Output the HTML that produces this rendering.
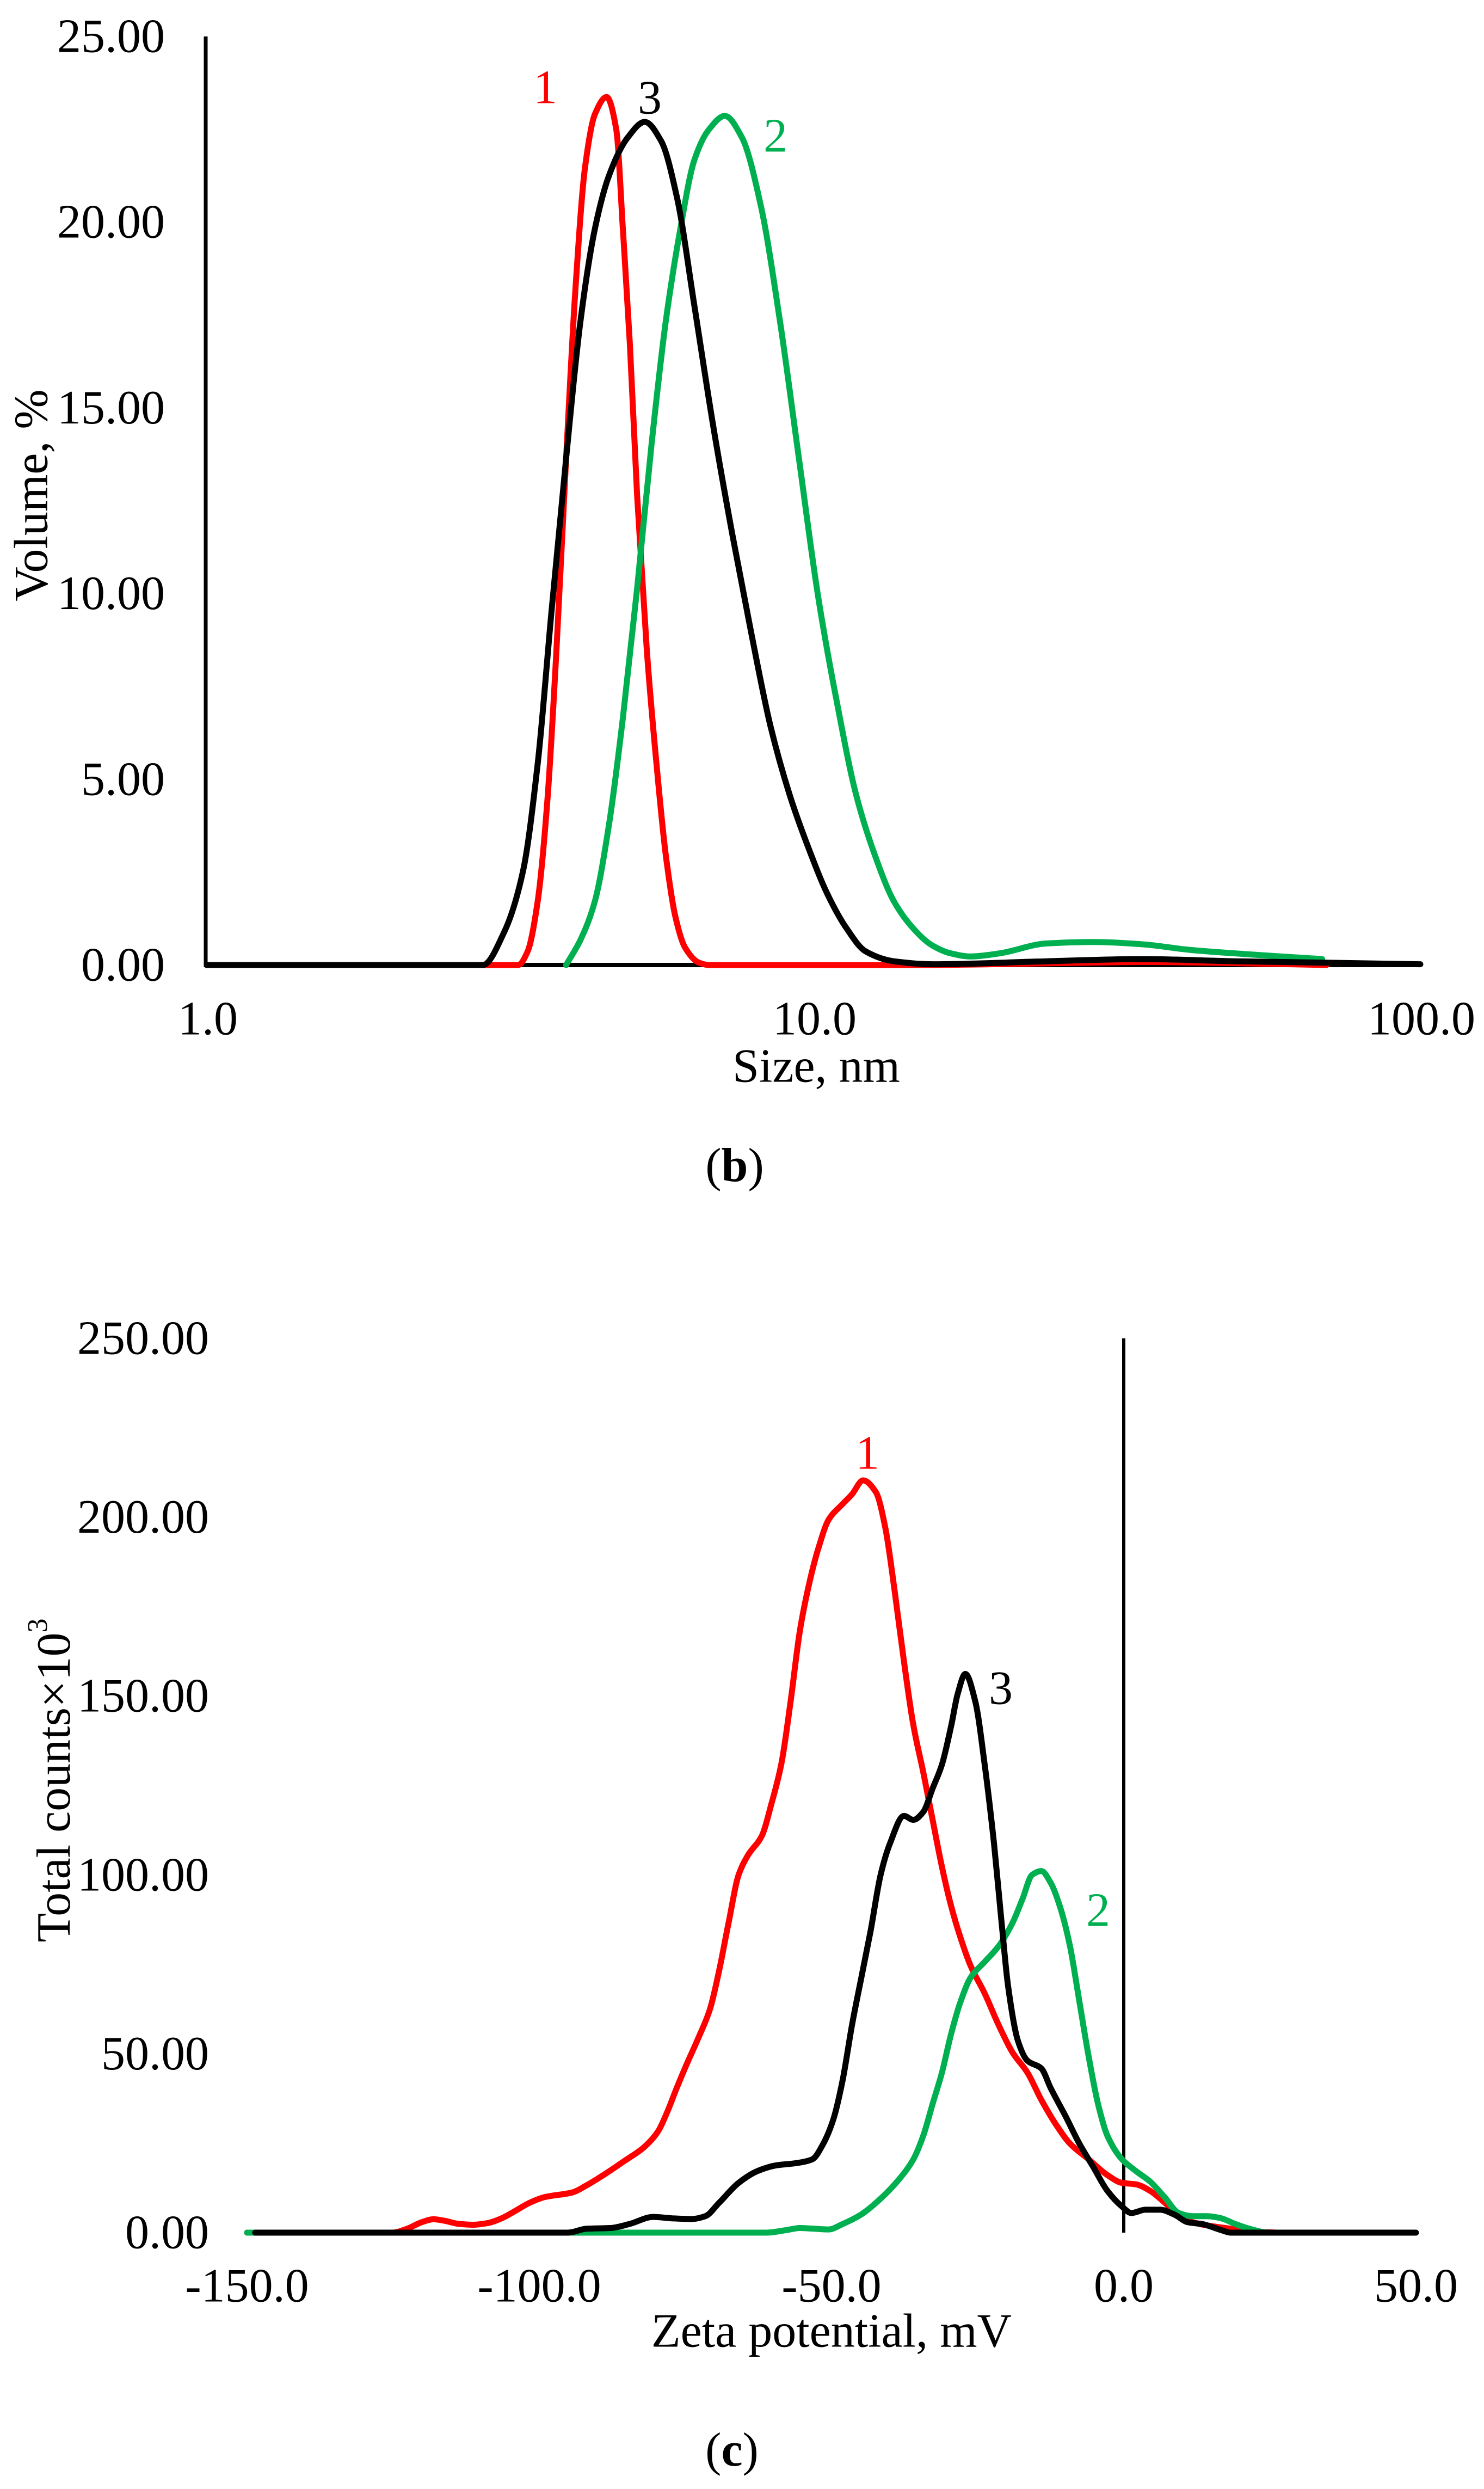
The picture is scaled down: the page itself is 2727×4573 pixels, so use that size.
<!DOCTYPE html>
<html><head><meta charset="utf-8"><style>
html,body{margin:0;padding:0;background:#fff;}
svg{display:block;font-family:"Liberation Serif",serif;}
</style></head><body>
<svg id="fig" width="2727" height="4573" viewBox="0 0 2727 4573" xmlns="http://www.w3.org/2000/svg">
<rect width="2727" height="4573" fill="#fff"/>
<g id="chartB"></g>
<g id="chartC"></g>
</svg>
<script>
// ---------- Chart (b) data: size (nm) vs volume (%) ----------
const bRedX = [2.0,3.26,3.38,3.51,3.64,3.77,3.91,4.05,4.20,4.36,4.56,4.73,4.85,4.98,5.12,5.31,5.51,5.71,5.92,6.14,6.48,6.72,15,25,35,50,70];
const bRedY = [0,0,0.37,1.71,4.38,8.50,13.64,18.17,21.46,22.90,23.37,22.49,19.81,16.73,12.63,8.50,5.41,2.94,1.30,0.47,0.06,0,0,0.05,0.08,0.05,0];
const bBlackX = [1.0,2.85,3.09,3.32,3.51,3.70,3.91,4.13,4.36,4.60,4.94,5.27,5.61,5.96,6.36,6.84,7.35,7.90,8.49,9.13,9.81,10.54,11.33,12.18,13.57,15.68,24.19,34.70,49.79,71.4,100];
const bBlackY = [0,0,0.88,2.53,5.41,9.53,13.64,17.35,19.81,21.25,22.28,22.70,22.18,20.64,17.76,14.47,11.58,8.91,6.44,4.59,3.15,1.91,0.99,0.37,0.10,0.02,0.10,0.16,0.10,0.06,0.02];
const bGreenX = [3.91,4.13,4.36,4.60,4.85,5.12,5.41,5.71,6.03,6.36,6.72,7.14,7.62,8.19,8.80,9.46,10.17,10.93,11.75,12.63,13.57,14.59,15.68,16.86,18.12,20.20,24.19,28.97,34.70,41.56,49.79,68.9];
const bGreenY = [0,0.68,1.71,3.77,6.65,10.14,14.05,17.35,19.81,21.67,22.49,22.86,22.28,20.43,17.35,13.64,9.94,7.06,4.59,2.94,1.71,0.99,0.53,0.31,0.23,0.31,0.58,0.62,0.56,0.41,0.31,0.16];
const bYTicks = [0,5,10,15,20,25];
const bYTickLabels = ["0.00","5.00","10.00","15.00","20.00","25.00"];
const bXTicks = [1,10,100];
const bXTickLabels = ["1.0","10.0","100.0"];

// ---------- Chart (c) data: zeta potential (mV) vs counts ----------
const cRedX = [-150,-125.1,-122.6,-120.2,-118.1,-116.2,-113.7,-111.3,-108.9,-106.5,-104.0,-101.6,-99.1,-94.3,-91.9,-88.6,-85.4,-82.1,-79.7,-78.1,-76.5,-74.8,-72.7,-70.8,-69.2,-67.6,-65.9,-64.3,-61.9,-60.3,-58.6,-57.0,-55.4,-53.8,-52.2,-50.5,-48.1,-46.5,-44.6,-42.4,-40.8,-39.2,-37.6,-36.0,-34.3,-32.7,-31.1,-29.5,-27.9,-26.2,-23.8,-21.4,-19.0,-16.5,-14.1,-11.7,-9.2,-6.0,-2.8,-0.3,2.1,4.5,7.0,9.4,11.8,15.1,18.3,23.2,26.4];
const cRedY = [0,0,1.1,2.87,3.75,3.31,2.43,2.21,2.65,3.97,6.18,8.39,9.93,11.26,13.24,16.55,20.08,23.84,28.25,33.77,40.39,47.01,54.73,62.46,73.49,86.74,99.98,105.5,111.0,119.8,130.9,148.5,168.4,181.6,191.6,199.3,203.7,206.4,210.3,207.0,197.1,179.4,159.6,141.9,128.7,115.4,102.2,91.1,82.3,74.6,66.9,58.0,50.3,44.8,37.1,30.5,24.9,20.5,16.1,13.9,13.5,11.7,8.4,4.6,2.9,1.8,1.1,0.2,0];
const cGreenX = [-150,-61.1,-57.8,-55.4,-53.0,-50.5,-48.1,-44.9,-41.6,-38.4,-36.0,-34.3,-32.7,-31.1,-29.5,-27.9,-26.2,-23.8,-21.4,-19.0,-17.3,-15.7,-14.1,-12.5,-10.9,-9.2,-7.6,-6.0,-4.4,-2.8,-0.3,2.1,4.5,7.0,9.4,11.8,14.3,16.7,19.1,21.5,24.8,30];
const cGreenY = [0,0,0.7,1.3,1.1,0.9,2.4,5.1,9.5,15.0,20.5,27.1,36.0,44.8,55.8,64.7,71.3,75.7,80.1,86.7,93.4,100.0,101.1,97.8,91.1,80.1,64.7,49.2,36.0,27.1,20.5,17.2,14.3,9.9,5.5,4.6,4.6,4.0,2.4,1.1,0,0];
const cBlackX = [-148.6,-95.1,-91.9,-87.8,-84.6,-80.5,-77.3,-74.0,-71.6,-69.2,-65.9,-62.7,-59.5,-56.2,-53.3,-51.4,-49.7,-48.1,-46.5,-44.9,-43.3,-41.6,-40.0,-37.6,-36.0,-34.3,-32.7,-31.1,-29.5,-28.4,-27.1,-25.4,-23.8,-22.2,-20.9,-19.8,-18.1,-16.5,-14.1,-12.5,-10.0,-7.6,-5.2,-2.8,-0.3,1.3,3.7,6.2,8.6,11.0,13.4,16.7,18.3,50];
const cBlackY = [0,0,1.1,1.3,2.4,4.4,4.0,3.8,4.6,8.4,13.9,17.2,18.8,19.4,20.5,24.9,31.6,42.6,58.0,71.3,84.5,100.0,108.8,116.5,115.4,117.6,124.2,130.9,141.9,150.7,156.2,148.5,130.9,108.8,86.7,69.1,53.6,48.1,45.9,40.4,32.7,24.9,18.3,11.7,7.3,5.5,6.4,6.4,5.1,2.9,2.4,0.7,0,0];
const cYTicks = [0,50,100,150,200,250];
const cYTickLabels = ["0.00","50.00","100.00","150.00","200.00","250.00"];
const cXTicks = [-150,-100,-50,0,50];
const cXTickLabels = ["-150.0","-100.0","-50.0","0.0","50.0"];

const NS = "http://www.w3.org/2000/svg";
const RED = "#ff0000", GREEN = "#00b050", BLACK = "#000000";

function mk(parent, tag, attrs, text){
  const el = document.createElementNS(NS, tag);
  for (const k in attrs) el.setAttribute(k, attrs[k]);
  if (text !== undefined) el.textContent = text;
  parent.appendChild(el);
  return el;
}
// monotone cubic (Fritsch-Carlson) path in pixel space
function smoothPath(pts){
  const n = pts.length;
  const dx = [], m = [], t = [];
  for (let i = 0; i < n-1; i++){ dx[i] = pts[i+1][0]-pts[i][0]; m[i] = (pts[i+1][1]-pts[i][1])/(dx[i]||1e-6); }
  t[0] = m[0]; t[n-1] = m[n-2];
  for (let i = 1; i < n-1; i++){
    if (m[i-1]*m[i] <= 0) t[i] = 0;
    else { const w1 = 2*dx[i]+dx[i-1], w2 = dx[i]+2*dx[i-1]; t[i] = (w1+w2)/(w1/m[i-1]+w2/m[i]); }
  }
  let d = "M" + pts[0][0].toFixed(1) + "," + pts[0][1].toFixed(1);
  for (let i = 0; i < n-1; i++){
    const h = dx[i]/3;
    d += " C" + (pts[i][0]+h).toFixed(1)+","+(pts[i][1]+t[i]*h).toFixed(1)+" "+(pts[i+1][0]-h).toFixed(1)+","+(pts[i+1][1]-t[i+1]*h).toFixed(1)+" "+pts[i+1][0].toFixed(1)+","+pts[i+1][1].toFixed(1);
  }
  return d;
}

// ---------- Chart (b) ----------
(function(){
  const g = document.getElementById("chartB");
  const x0 = 380, decade = 1115, yTop = 67, yBot = 1773;
  const sx = v => x0 + Math.log10(v) * decade;
  const sy = v => yBot - v * (yBot - yTop) / 25;
  const ax = mk(g, "line", {x1:378, y1:yTop, x2:378, y2:yBot+4, stroke:"#000", "stroke-width":7});
  
  
  const bx = mk(g, "line", {x1:375, y1:yBot, x2:sx(100), y2:yBot, stroke:"#000", "stroke-width":8});
  
  
  bYTicks.forEach((v,i) => {
    const t = mk(g, "text", {x:303, y:sy(v), "text-anchor":"end", "dominant-baseline":"central", "font-size":88}, bYTickLabels[i]);
    
    
  });
  bXTicks.forEach((v,i) => {
    const t = mk(g, "text", {x:sx(v)+2, y:1872, "text-anchor":"middle", "dominant-baseline":"central", "font-size":88}, bXTickLabels[i]);
    
    
  });
  const series = [[bRedX,bRedY,RED,"series-1-curve"],[bGreenX,bGreenY,GREEN,"series-2-curve"],[bBlackX,bBlackY,BLACK,"series-3-curve"]];
  series.forEach(s => {
    const pts = s[0].map((x,i) => [sx(x), sy(s[1][i])]);
    const p = mk(g, "path", {d:smoothPath(pts), fill:"none", stroke:s[2], "stroke-width":11, "stroke-linejoin":"round", "stroke-linecap":"round"});
    
    
  });
  const l1 = mk(g, "text", {x:1002, y:161, "text-anchor":"middle", "dominant-baseline":"central", "font-size":88, fill:RED}, "1");
  
  
  const l3 = mk(g, "text", {x:1194, y:180, "text-anchor":"middle", "dominant-baseline":"central", "font-size":88, fill:BLACK}, "3");
  
  
  const l2 = mk(g, "text", {x:1425, y:250, "text-anchor":"middle", "dominant-baseline":"central", "font-size":88, fill:GREEN}, "2");
  
  
  const xt = mk(g, "text", {x:1500, y:1959, "text-anchor":"middle", "dominant-baseline":"central", "font-size":88}, "Size, nm");
  
  
  const yt = mk(g, "text", {x:0, y:0, "text-anchor":"middle", "dominant-baseline":"central", "font-size":88, transform:"translate(58,910) rotate(-90)"}, "Volume, %");
  
  
  const cap = mk(g, "text", {x:1350, y:2141, "text-anchor":"middle", "dominant-baseline":"central", "font-size":88}, "");
  
  
  mk(cap, "tspan", {}, "(");
  mk(cap, "tspan", {"font-weight":"bold"}, "b");
  mk(cap, "tspan", {}, ")");
})();

// ---------- Chart (c) ----------
(function(){
  const g = document.getElementById("chartC");
  const yTop = 2459, yBot = 4102;
  const sx = v => 2065 + v * 10.74;
  const sy = v => yBot - v * (yBot - yTop) / 250;
  const zl = mk(g, "line", {x1:sx(0), y1:yTop, x2:sx(0), y2:yBot, stroke:"#000", "stroke-width":6});
  
  
  cYTicks.forEach((v,i) => {
    const t = mk(g, "text", {x:384, y:sy(v), "text-anchor":"end", "dominant-baseline":"central", "font-size":88}, cYTickLabels[i]);
    
    
  });
  cXTicks.forEach((v,i) => {
    const t = mk(g, "text", {x:sx(v), y:4200, "text-anchor":"middle", "dominant-baseline":"central", "font-size":88}, cXTickLabels[i]);
    
    
  });
  const series = [[cRedX,cRedY,RED,"series-1-curve"],[cGreenX,cGreenY,GREEN,"series-2-curve"],[cBlackX,cBlackY,BLACK,"series-3-curve"]];
  series.forEach(s => {
    const pts = s[0].map((x,i) => [sx(x), sy(s[1][i])]);
    const p = mk(g, "path", {d:smoothPath(pts), fill:"none", stroke:s[2], "stroke-width":11, "stroke-linejoin":"round", "stroke-linecap":"round"});
    
    
  });
  const l1 = mk(g, "text", {x:1594, y:2670, "text-anchor":"middle", "dominant-baseline":"central", "font-size":88, fill:RED}, "1");
  
  
  const l3 = mk(g, "text", {x:1839, y:3102, "text-anchor":"middle", "dominant-baseline":"central", "font-size":88, fill:BLACK}, "3");
  
  
  const l2 = mk(g, "text", {x:2018, y:3510, "text-anchor":"middle", "dominant-baseline":"central", "font-size":88, fill:GREEN}, "2");
  
  
  const xt = mk(g, "text", {x:1528, y:4283, "text-anchor":"middle", "dominant-baseline":"central", "font-size":88}, "Zeta potential, mV");
  
  
  const yt = mk(g, "text", {x:0, y:0, "text-anchor":"middle", "dominant-baseline":"central", "font-size":88, transform:"translate(99,3271) rotate(-90)"}, "");
  
  
  mk(yt, "tspan", {}, "Total counts×10");
  mk(yt, "tspan", {"font-size":52, dy:-30}, "3");
  const cap = mk(g, "text", {x:1345, y:4501, "text-anchor":"middle", "dominant-baseline":"central", "font-size":88}, "");
  
  
  mk(cap, "tspan", {}, "(");
  mk(cap, "tspan", {"font-weight":"bold"}, "c");
  mk(cap, "tspan", {}, ")");
})();
</script>
</body></html>
